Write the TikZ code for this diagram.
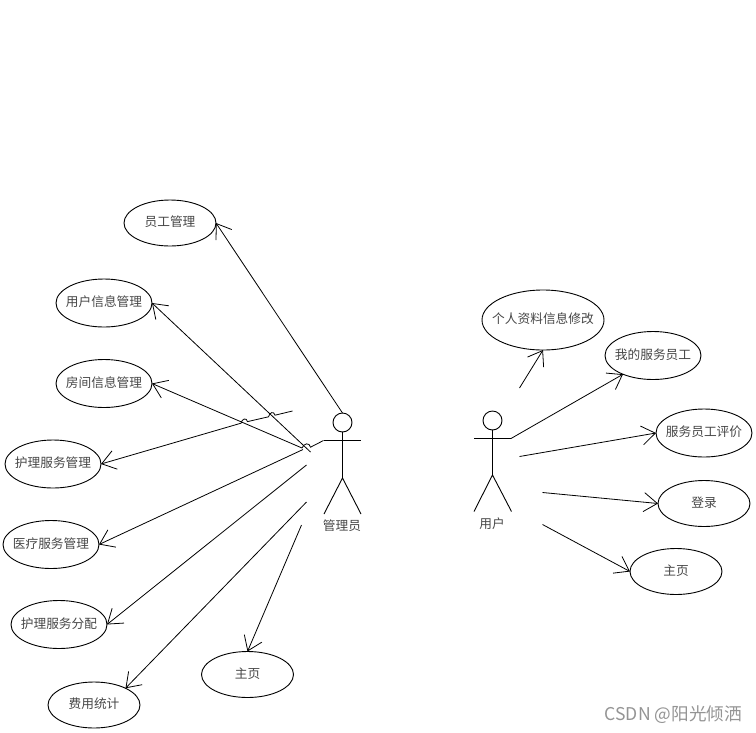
\documentclass[tikz,border=0pt]{standalone}
\usepackage{fontspec}
\setmainfont{Noto Sans CJK SC}
\usetikzlibrary{shapes.geometric,arrows.meta}
\tikzset{
  uc/.style={ellipse,draw=black,line width=0.9pt,inner sep=-25pt,outer sep=0pt,minimum width=96pt,minimum height=48pt,text=black!72,text height=10pt,text depth=3pt,font=\fontsize{12.7}{14}\selectfont},
  ucs/.style={uc,minimum width=92pt,minimum height=46pt},
  ucb/.style={uc,minimum width=122pt,minimum height=60pt,inner sep=-40pt},
  headc/.style={circle,draw=black,line width=0.9pt,minimum size=19pt,inner sep=0pt,outer sep=0pt},
  actorlab/.style={text=black!72,font=\fontsize{12.7}{14}\selectfont,inner sep=0pt},
  limb/.style={line width=0.9pt,draw=black},
  conn/.style={line width=0.8pt,draw=black,-{Straight Barb[length=13.5pt,width=19pt,line width=0.8pt]}}
}
\begin{document}
\begin{tikzpicture}[x=1pt,y=-1pt]
\path[use as bounding box,fill=white] (0,0) rectangle (756,732);
% use cases, left
\node[ucs] (e1) at (170,223) {员工管理};
\node[uc] (e2) at (104,303) {用户信息管理};
\node[uc] (e3) at (104,383.5) {房间信息管理};
\node[uc] (e4) at (53,464) {护理服务管理};
\node[uc] (e5) at (51,544.5) {医疗服务管理};
\node[uc] (e6) at (59,624.5) {护理服务分配};
\node[ucs] (e7) at (94,705) {费用统计};
\node[ucs] (e8) at (247.5,674.5) {主页};
% use cases, right
\node[ucb] (r1) at (543,320) {个人资料信息修改};
\node[uc] (r2) at (653,355.5) {我的服务员工};
\node[uc] (r3) at (704,433) {服务员工评价};
\node[ucs] (r4) at (704,503.5) {登录};
\node[ucs] (r5) at (676,571.5) {主页};
% admin actor
\node[headc] (ah) at (342.5,422.5) {};
\coordinate (ahip) at (342.5,478);
\coordinate (al) at (323.5,440.5);
\coordinate (ar) at (361,440.5);
\coordinate (afl) at (324,514);
\coordinate (afr) at (361,514);
\draw[limb] (ah.south) -- (ahip);
\draw[limb] (al) -- (ar);
\draw[limb] (afl) -- (ahip) -- (afr);
\node[actorlab] (alab) at (342,526) {管理员};
% user actor
\node[headc] (uh) at (492.5,420.5) {};
\coordinate (uhip) at (492.5,475);
\coordinate (ul) at (474,438.5);
\coordinate (ur) at (511,438.5);
\coordinate (ufl) at (474,511.5);
\coordinate (ufr) at (511.5,511.5);
\draw[limb] (uh.south) -- (uhip);
\draw[limb] (ul) -- (ur);
\draw[limb] (ufl) -- (uhip) -- (ufr);
\node[actorlab] (ulab) at (492,524) {用户};
% free ends, left
\coordinate (s2) at (310.5,452);
\coordinate (h3a) at (310.5,447.2);
\coordinate (h3b) at (302,448);
\coordinate (s4) at (292.5,411);
\coordinate (h4a) at (275,415.2);
\coordinate (h4b) at (268.5,416.8);
\coordinate (h4c) at (247.5,421.6);
\coordinate (h4d) at (241,423.2);
\coordinate (s5) at (303,449.5);
\coordinate (s6) at (306.5,465);
\coordinate (s7) at (306.5,502);
\coordinate (s8) at (301.5,525);
% connectors, left
\draw[conn] (ah.north) -- (e1.east);
\draw[conn] (s2) -- (e2.east);
\draw[conn] (al) -- (h3a) .. controls +(-1,-5) and +(2,-5) .. (h3b) -- (e3.east);
\draw[conn] (s4) -- (h4a) .. controls +(-1,-4.5) and +(1,-4.5) .. (h4b) -- (h4c) .. controls +(-1,-4.5) and +(1,-4.5) .. (h4d) -- (e4.east);
\draw[conn] (s5) -- (e5.east);
\draw[conn] (s6) -- (e6.east);
\draw[conn] (s7) -- (e7.28);
\draw[conn] (s8) -- (e8.north);
% free ends, right
\coordinate (t1) at (519.5,388);
\coordinate (t3) at (519.5,456.5);
\coordinate (t4) at (542.5,492.5);
\coordinate (t5) at (542.5,524.5);
% connectors, right
\draw[conn] (t1) -- (r1.south);
\draw[conn] (ur) -- (r2.212);
\draw[conn] (t3) -- (r3.west);
\draw[conn] (t4) -- (r4.west);
\draw[conn] (t5) -- (r5.west);
% watermark
\node[text=black!42,font=\fontsize{17.6}{20}\selectfont,inner sep=0pt,anchor=east] (wm) at (742,715) {CSDN @阳光倾洒};
\end{tikzpicture}
\end{document}
